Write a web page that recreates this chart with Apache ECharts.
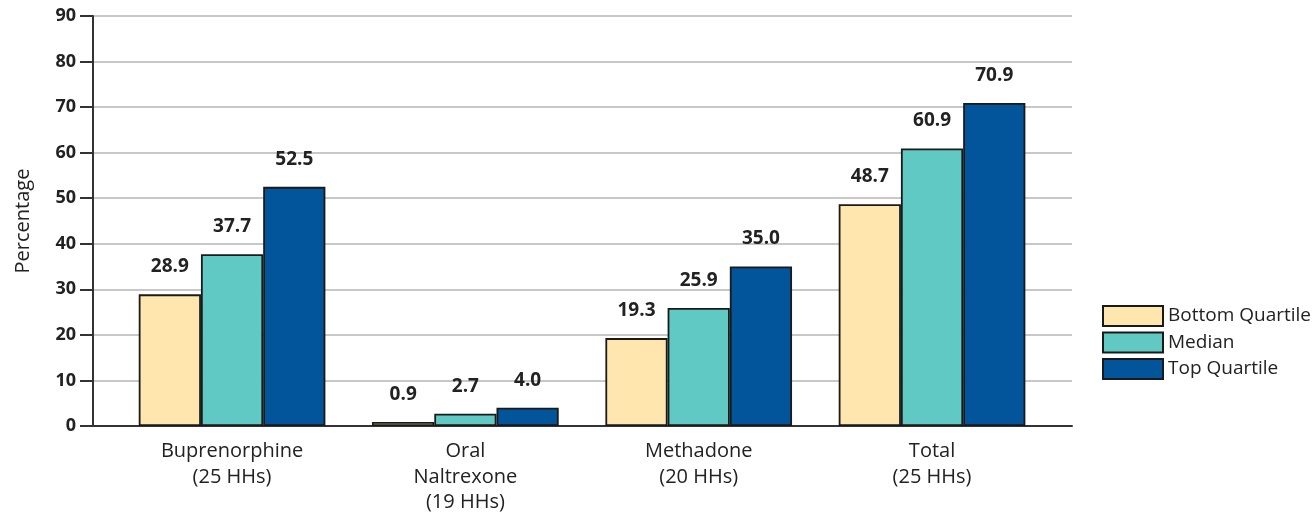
<!DOCTYPE html>
<html>
<head>
<meta charset="utf-8">
<script src="https://cdn.jsdelivr.net/npm/echarts@6/dist/echarts.min.js"></script>
<style>html,body{margin:0;padding:0;background:#fff}#c{width:1312px;height:515px}</style>
</head>
<body>
<div id="c"></div>
<script>
const categories = ['Buprenorphine\n(25 HHs)', 'Oral\nNaltrexone\n(19 HHs)', 'Methadone\n(20 HHs)', 'Total\n(25 HHs)'];
const seriesNames = ['Bottom Quartile', 'Median', 'Top Quartile'];
const bottomQuartile = [28.9, 0.9, 19.3, 48.7];
const median = [37.7, 2.7, 25.9, 60.9];
const topQuartile = [52.5, 4.0, 35.0, 70.9];
const colors = ['#FEE6AE', '#60C9C3', '#02559B'];
const yMin = 0, yMax = 90, yStep = 10;

const FONT = '"Open Sans", "Noto Sans", sans-serif';
const chart = echarts.init(document.getElementById('c'), null, {renderer: 'canvas'});
const values = [bottomQuartile, median, topQuartile];

chart.setOption({
  animation: false,
  textStyle: {fontFamily: FONT},
  grid: [
    {left: 93, right: 240, top: 16, bottom: 89, containLabel: false, outerBoundsMode: 'none'},
    {left: 115.4, right: 263.3, top: 16, bottom: 89, containLabel: false, outerBoundsMode: 'none'}
  ],
  legend: {
    orient: 'vertical',
    left: 1102,
    top: 305,
    padding: 0,
    icon: 'rect',
    itemWidth: 60,
    itemHeight: 20,
    itemGap: 4.5,
    data: seriesNames,
    textStyle: {fontSize: 19, lineHeight: 20, color: '#222', fontFamily: FONT, padding: [0, 0, 0, 0]}
  },
  xAxis: [
    {
      gridIndex: 0, type: 'category', data: [''],
      axisLine: {show: true, lineStyle: {color: '#333', width: 2}},
      axisTick: {show: false}, axisLabel: {show: false}
    },
    {
      gridIndex: 1, type: 'category', data: categories,
      axisLine: {show: false}, axisTick: {show: false},
      axisLabel: {fontSize: 20, color: '#222', lineHeight: 25.5, margin: 13, fontFamily: FONT}
    }
  ],
  yAxis: [
    {
      gridIndex: 0, type: 'value', min: yMin, max: yMax, interval: yStep,
      name: 'Percentage', nameLocation: 'middle', nameGap: 60,
      nameTextStyle: {fontSize: 20, color: '#222', fontFamily: FONT},
      axisLine: {show: true, lineStyle: {color: '#333', width: 2}},
      axisTick: {show: true, length: 13, lineStyle: {color: '#333', width: 2}},
      axisLabel: {fontSize: 18, fontWeight: 'bold', color: '#222', margin: 17, fontFamily: FONT},
      splitLine: {lineStyle: {color: '#c8c8c8', width: 2}}
    },
    {
      gridIndex: 1, type: 'value', min: yMin, max: yMax, interval: yStep,
      axisLine: {show: false}, axisTick: {show: false}, axisLabel: {show: false},
      splitLine: {show: false}
    }
  ],
  series: seriesNames.map((n, i) => ({
    name: n,
    type: 'bar',
    xAxisIndex: 1,
    yAxisIndex: 1,
    data: values[i],
    barGap: '0%',
    barCategoryGap: '20%',
    itemStyle: {color: colors[i], borderColor: '#1a1a1a', borderWidth: 1.8},
    label: {
      show: true, position: 'top', distance: 18,
      formatter: p => p.value.toFixed(1),
      fontSize: 19, fontWeight: 'bold', color: '#222', fontFamily: FONT
    }
  }))
});
</script>
</body>
</html>
